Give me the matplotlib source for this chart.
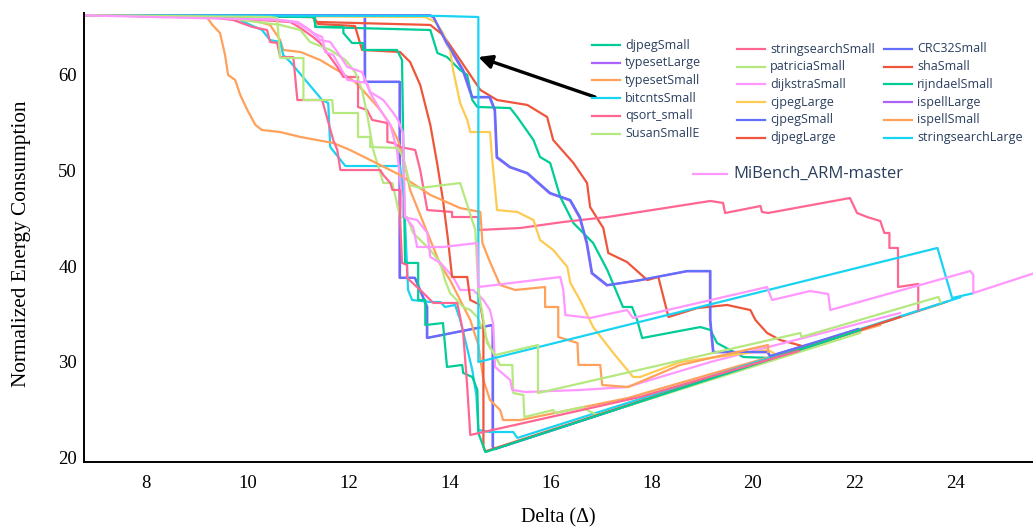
import matplotlib
matplotlib.use("Agg")
import matplotlib.pyplot as plt
from matplotlib.lines import Line2D

# normalized energy vs delta for each MiBench benchmark
crc32_small_x = [6.7, 12.33, 12.33, 13.02, 13.02, 13.32, 13.42, 13.56, 13.56, 14.86, 14.86, 14.90, 21.73]
crc32_small_y = [66.25, 66.18, 59.27, 59.27, 38.75, 38.75, 37.49, 35.71, 32.46, 33.82, 21.05, 20.85, 32.63]

sha_small_x = [6.7, 11.30, 11.38, 13.62, 13.87, 14.21, 14.61, 14.94, 15.54, 15.93, 16.05, 16.45, 16.72, 16.78,
               17.04, 17.14, 17.51, 17.91, 18.13, 18.23, 18.33, 18.90, 19.49, 19.95, 20.05, 20.28, 20.54, 21.07, 23.84]
sha_small_y = [66.25, 66.07, 65.55, 65.24, 64.19, 61.57, 58.43, 57.38, 56.86, 55.60, 53.19, 50.79, 48.69, 46.18,
               43.98, 41.36, 40.42, 38.53, 38.85, 36.76, 34.66, 35.60, 35.92, 35.39, 34.35, 32.99, 32.25, 31.49, 36.27]

rijndael_small_x = [6.7, 11.30, 11.36, 13.62, 13.76, 13.95, 14.21, 14.35, 14.45, 14.55, 15.20, 15.34, 15.66, 15.79,
                    15.99, 16.19, 16.45, 16.84, 17.12, 17.43, 17.61, 17.71, 17.81, 18.96, 19.16, 19.29, 19.55, 19.81,
                    20.40, 22.78]
rijndael_small_y = [66.25, 66.18, 65.03, 64.71, 62.30, 61.88, 60.52, 60.00, 57.38, 56.65, 56.54, 55.60, 53.19, 51.41,
                    50.79, 47.23, 44.50, 42.41, 39.58, 35.71, 35.71, 34.35, 32.46, 33.61, 33.30, 31.94, 31.20, 30.47,
                    30.37, 34.44]

ispell_large_x = [6.7, 12.32, 12.32, 13.01, 13.01, 13.31, 13.41, 13.55, 13.55, 14.85, 14.85, 14.89, 21.71]
ispell_large_y = [66.25, 66.2, 59.3, 59.3, 38.78, 38.78, 37.52, 35.73, 32.48, 33.84, 21.08, 20.82, 32.6]

ispell_small_x = [6.7, 9.86, 10.45, 10.65, 10.71, 11.05, 11.44, 11.84, 12.13, 12.37, 12.63, 12.83, 12.98, 13.12,
                  13.22, 13.42, 13.62, 13.82, 14.01, 14.21, 14.41, 14.57, 14.67, 14.80, 15.00, 15.06, 15.40, 17.53, 22.52]
ispell_small_y = [66.25, 66.07, 65.24, 63.66, 62.62, 62.41, 61.57, 60.31, 59.27, 57.91, 56.34, 54.77, 53.19, 50.58,
                  47.96, 45.34, 42.72, 40.11, 38.53, 36.44, 34.35, 31.73, 28.06, 25.97, 24.92, 23.87, 23.87, 26.18, 33.82]

strsearch_large_x = [6.7, 9.66, 10.29, 10.45, 10.65, 10.71, 10.85, 11.48, 11.60, 11.64, 11.94, 13.02, 13.10, 13.18,
                     13.26, 13.62, 13.82, 13.91, 14.11, 14.21, 14.31, 14.45, 14.53, 14.57, 14.80, 15.26, 15.34, 24.10]
strsearch_large_y = [66.25, 66.18, 64.71, 63.66, 63.46, 62.09, 61.36, 57.38, 57.07, 52.46, 50.47, 50.47, 46.91, 37.49,
                     36.44, 36.23, 36.23, 35.71, 35.92, 34.35, 32.25, 29.11, 26.50, 22.83, 22.62, 22.62, 22.00, 36.72]

strsearch_small_x = [6.7, 9.66, 10.25, 10.85, 11.05, 11.30, 11.44, 11.78, 11.90, 12.19, 12.19, 12.37, 12.47, 12.77,
                     12.77, 12.89, 13.02, 13.32, 13.42, 13.56, 14.05, 14.05, 14.57, 14.57, 15.40, 16.25, 17.12, 19.16,
                     19.41, 19.45, 20.15, 20.18, 20.30, 21.92, 22.06, 22.26, 22.52, 22.60, 22.70, 22.70, 22.87, 22.87,
                     23.27, 23.27]
strsearch_small_y = [66.25, 66.07, 65.76, 65.55, 64.92, 63.98, 63.35, 60.84, 59.79, 59.79, 56.65, 56.34, 55.29, 54.97,
                     52.99, 52.88, 52.46, 52.15, 50.05, 45.86, 45.66, 45.13, 45.13, 43.77, 43.98, 44.61, 45.13, 46.81,
                     46.60, 45.55, 46.28, 45.66, 45.55, 47.12, 45.55, 45.13, 44.71, 43.46, 43.46, 41.89, 41.89, 37.80,
                     38.12, 35.39]

patricia_small_x = [6.7, 9.27, 9.86, 10.65, 11.05, 11.24, 11.64, 11.94, 12.13, 12.27, 12.39, 12.49, 12.69, 12.87,
                    13.02, 13.16, 13.28, 13.62, 13.82, 13.91, 14.01, 14.27, 14.41, 14.55, 14.80, 15.00, 15.24, 15.26,
                    15.46, 15.48, 16.05, 16.09, 16.64, 16.72, 16.92, 17.77, 22.12]
patricia_small_y = [66.25, 66.07, 65.76, 65.24, 64.71, 63.46, 62.62, 61.57, 60.31, 58.43, 55.29, 52.15, 48.69, 48.69,
                    45.13, 45.13, 43.46, 41.68, 40.32, 38.53, 37.17, 35.71, 35.39, 34.66, 31.52, 29.64, 29.64, 26.70,
                    26.50, 24.19, 24.92, 24.61, 25.24, 24.92, 24.40, 25.76, 32.99]

dijkstra_small_x = [6.7, 10.06, 11.00, 11.24, 11.44, 11.64, 11.78, 11.98, 12.27, 12.43, 12.63, 12.83, 12.96, 13.02,
                    13.08, 13.36, 13.56, 13.62, 13.82, 14.07, 14.21, 14.47, 14.67, 14.80, 14.86, 14.90, 15.20, 15.24,
                    15.50, 16.58, 17.51, 17.77, 19.16, 22.91]
dijkstra_small_y = [66.25, 66.07, 65.55, 64.71, 63.66, 63.46, 62.41, 60.84, 60.31, 58.12, 56.34, 54.77, 52.15, 49.32,
                    45.13, 44.82, 43.46, 40.94, 40.32, 38.85, 37.49, 37.49, 36.44, 35.39, 34.03, 29.43, 28.06, 27.02,
                    26.81, 27.02, 27.33, 27.75, 29.95, 35.08]

cjpeg_large_x = [6.7, 13.52, 13.72, 13.87, 14.01, 14.07, 14.21, 14.35, 14.41, 14.80, 14.84, 14.94, 15.34, 15.66,
                 15.79, 16.05, 16.33, 16.39, 16.58, 16.84, 17.24, 17.63, 17.77, 18.56, 20.30, 20.44]
cjpeg_large_y = [66.25, 66.07, 65.55, 64.40, 62.62, 60.52, 57.07, 55.29, 54.03, 54.03, 51.41, 45.86, 45.66, 44.82,
                 42.72, 41.68, 39.90, 38.22, 36.44, 33.61, 30.89, 28.38, 28.38, 29.95, 31.20, 30.79]

cjpeg_small_x = [6.7, 13.62, 13.68, 13.95, 14.27, 14.45, 14.80, 14.90, 14.94, 15.20, 15.54, 15.99, 16.39, 16.58,
                 16.72, 16.82, 17.12, 17.77, 18.70, 19.16, 19.16, 19.22, 19.75, 20.30, 20.34, 21.19, 22.08]
cjpeg_small_y = [66.25, 66.25, 66.07, 63.35, 60.52, 57.70, 57.70, 56.34, 51.41, 50.37, 49.74, 47.65, 46.91, 45.13,
                 42.41, 39.27, 38.01, 38.53, 39.48, 39.48, 34.35, 31.00, 31.00, 31.00, 30.58, 31.94, 33.41]

djpeg_large_x = [6.7, 11.30, 11.40, 12.13, 12.27, 13.02, 13.22, 13.42, 13.62, 13.76, 13.87, 13.97, 14.05, 14.35,
                 14.41, 14.61, 14.67, 14.67, 14.71, 22.91]
djpeg_large_y = [66.25, 66.07, 65.34, 65.13, 62.62, 62.41, 61.36, 58.95, 54.77, 50.58, 46.91, 42.72, 38.85, 38.85,
                 36.44, 35.92, 34.03, 21.05, 20.60, 34.66]

djpeg_small_x = [6.7, 11.34, 11.34, 11.90, 11.90, 12.07, 12.29, 12.29, 12.96, 13.06, 13.12, 13.38, 13.38, 13.52,
                 13.52, 13.87, 13.95, 14.25, 14.27, 14.45, 14.55, 14.57, 14.71, 22.12]
djpeg_small_y = [66.25, 66.07, 65.03, 65.03, 64.40, 63.35, 63.35, 62.62, 62.62, 61.57, 40.32, 40.32, 36.44, 36.44,
                 33.82, 34.03, 29.43, 29.64, 28.80, 28.38, 27.02, 22.52, 20.52, 33.30]

typeset_large_x = [6.7, 13.61, 13.69, 13.94, 14.26, 14.44, 14.79, 14.89, 14.93, 15.19, 15.53, 15.98, 16.38, 16.57,
                   16.71, 16.81, 17.11, 17.76, 18.69, 19.15, 19.15, 19.21, 20.29, 20.33, 21.18, 22.07]
typeset_large_y = [66.25, 66.22, 66.0, 63.3, 60.47, 57.65, 57.65, 56.3, 51.35, 50.33, 49.7, 47.6, 46.86, 45.07,
                   42.36, 39.23, 37.96, 38.5, 39.44, 39.44, 34.3, 30.97, 30.97, 30.55, 31.91, 33.37]

typeset_small_x = [6.7, 9.07, 9.21, 9.31, 9.46, 9.56, 9.62, 9.76, 9.86, 10.00, 10.16, 10.29, 10.65, 11.05, 11.70,
                   12.03, 12.43, 13.02, 13.62, 14.21, 14.61, 14.65, 14.80, 15.00, 15.30, 15.89, 15.89, 16.15, 16.15,
                   16.53, 16.55, 16.98, 17.02, 17.53, 18.56, 20.30, 20.30]
typeset_small_y = [66.25, 66.18, 65.97, 65.24, 64.40, 62.09, 60.00, 59.48, 57.91, 56.34, 54.77, 54.24, 54.03, 53.51,
                   52.88, 52.15, 51.10, 49.53, 47.44, 46.07, 45.66, 42.41, 40.42, 38.01, 37.49, 37.80, 35.71, 35.71,
                   32.57, 31.94, 29.64, 29.64, 27.54, 27.33, 29.64, 31.73, 31.00]

bitcnts_small_x = [6.7, 13.82, 14.57, 14.57, 23.65, 23.94, 24.34]
bitcnts_small_y = [66.25, 66.18, 66.07, 29.95, 41.89, 36.65, 37.13]

qsort_small_x = [6.7, 9.21, 9.72, 10.10, 10.39, 10.45, 10.59, 10.65, 10.91, 10.99, 11.48, 11.70, 11.78, 11.84, 12.63,
                 12.69, 12.83, 12.87, 13.02, 13.02, 13.06, 13.16, 13.16, 13.42, 13.68, 14.15, 14.21, 14.27, 14.35,
                 14.41, 17.77, 20.90]
qsort_small_y = [66.25, 66.07, 65.76, 65.03, 64.71, 63.46, 63.35, 61.88, 61.88, 57.38, 57.38, 53.19, 52.15, 50.05,
                 50.05, 49.53, 48.69, 47.96, 47.96, 45.13, 40.32, 40.11, 38.75, 37.49, 36.13, 36.13, 34.66, 32.99,
                 27.33, 22.31, 26.29, 31.10]

susan_small_x = [6.7, 10.45, 10.59, 10.65, 11.11, 11.11, 11.68, 11.70, 12.19, 12.19, 12.43, 12.43, 12.98, 13.08,
                 13.22, 13.42, 14.21, 14.51, 14.57, 14.67, 14.74, 14.90, 15.75, 15.75, 20.94, 20.96, 23.67, 23.71]
susan_small_y = [66.25, 66.07, 65.97, 61.78, 61.78, 57.38, 57.38, 56.02, 56.02, 53.51, 53.51, 52.46, 52.36, 51.41,
                 48.48, 48.17, 48.69, 43.77, 37.49, 34.35, 31.94, 30.68, 31.73, 26.70, 32.99, 32.57, 36.76, 36.23]

mibench_x = [6.7, 10.65, 10.91, 11.05, 11.30, 11.48, 11.54, 11.70, 11.98, 12.37, 12.43, 12.69, 12.89, 12.98, 13.08,
             13.12, 13.28, 13.36, 13.87, 14.55, 14.57, 16.19, 16.25, 16.29, 16.78, 17.51, 17.63, 20.28, 20.38, 21.13,
             21.49, 21.53, 24.30, 24.36, 24.36, 25.70]
mibench_y = [66.25, 65.76, 65.55, 65.24, 64.40, 63.98, 62.41, 62.09, 59.48, 59.16, 58.22, 57.38, 56.02, 55.29, 53.93,
             45.13, 44.09, 41.99, 41.99, 42.41, 37.80, 38.85, 37.49, 34.87, 34.56, 35.39, 34.56, 37.80, 36.44, 37.38,
             37.07, 35.39, 39.48, 39.06, 37.17, 39.48]

BLUE, RED, GREEN, PURPLE, ORANGE = '#636EFA', '#EF553B', '#00CC96', '#AB63FA', '#FFA15A'
CYAN, ROSE, LIME, PINK, YELLOW = '#19D3F3', '#FF6692', '#B6E880', '#FF97FF', '#FECB52'

# drawing order (first = bottom)
series = [
    ('ispellLarge', ispell_large_x, ispell_large_y, PURPLE),
    ('typesetLarge', typeset_large_x, typeset_large_y, PURPLE),
    ('CRC32Small', crc32_small_x, crc32_small_y, BLUE),
    ('shaSmall', sha_small_x, sha_small_y, RED),
    ('rijndaelSmall', rijndael_small_x, rijndael_small_y, GREEN),
    ('ispellSmall', ispell_small_x, ispell_small_y, ORANGE),
    ('stringsearchLarge', strsearch_large_x, strsearch_large_y, CYAN),
    ('stringsearchSmall', strsearch_small_x, strsearch_small_y, ROSE),
    ('patriciaSmall', patricia_small_x, patricia_small_y, LIME),
    ('dijkstraSmall', dijkstra_small_x, dijkstra_small_y, PINK),
    ('cjpegLarge', cjpeg_large_x, cjpeg_large_y, YELLOW),
    ('cjpegSmall', cjpeg_small_x, cjpeg_small_y, BLUE),
    ('djpegLarge', djpeg_large_x, djpeg_large_y, RED),
    ('djpegSmall', djpeg_small_x, djpeg_small_y, GREEN),
    ('typesetSmall', typeset_small_x, typeset_small_y, ORANGE),
    ('bitcntsSmall', bitcnts_small_x, bitcnts_small_y, CYAN),
    ('qsort_small', qsort_small_x, qsort_small_y, ROSE),
    ('SusanSmallE', susan_small_x, susan_small_y, LIME),
    ('MiBench_ARM-master', mibench_x, mibench_y, PINK),
]
colors = {name: c for name, _, _, c in series}

legend_cols = [
    (['djpegSmall', 'typesetLarge', 'typesetSmall', 'bitcntsSmall', 'qsort_small', 'SusanSmallE'], 592, 45),
    (['stringsearchSmall', 'patriciaSmall', 'dijkstraSmall', 'cjpegLarge', 'cjpegSmall', 'djpegLarge'], 737, 49),
    (['CRC32Small', 'shaSmall', 'rijndaelSmall', 'ispellLarge', 'ispellSmall', 'stringsearchLarge'], 884, 49),
]

W, H = 1033, 527
serif = 'Liberation Serif'
sans = 'Open Sans'
txt_color = '#2a3f5f'

fig = plt.figure(figsize=(W / 100, H / 100), dpi=100)
ax = fig.add_axes([84 / W, 1 - 462 / H, 949 / W, 449 / H])

for name, xs, ys, c in series:
    ax.plot(xs, ys, color=c, lw=1.6, solid_joinstyle='round')

ax.set_xlim(6.77, 25.54)
ax.set_ylim(19.48, 66.49)
ax.set_xticks(range(8, 25, 2))
ax.set_yticks(range(20, 61, 10))
for sp in ['top', 'right']:
    ax.spines[sp].set_visible(False)
for sp in ['left', 'bottom']:
    ax.spines[sp].set_linewidth(1.4)
ax.tick_params(axis='x', length=0, pad=9, labelsize=13.5)
ax.tick_params(axis='y', length=0, pad=5, labelsize=13.5)
for lab in ax.get_xticklabels() + ax.get_yticklabels():
    lab.set_fontfamily(serif)

fig.text(22 / W, 1 - 244 / H, 'Normalized Energy Consumption', rotation=90,
         ha='center', va='center', fontfamily=serif, fontsize=15.3)
fig.text(558 / W, 1 - 522 / H, 'Delta (\u0394)', ha='center', va='baseline',
         fontfamily=serif, fontsize=14.5)

# hand-placed legend, three columns
for names, lx, top in legend_cols:
    for i, name in enumerate(names):
        py = top + 17.7 * i
        fig.add_artist(Line2D([lx / W, (lx + 28) / W], [1 - py / H, 1 - py / H],
                              color=colors[name], lw=1.6, transform=fig.transFigure))
        fig.text((lx + 33) / W, 1 - py / H, name, ha='left', va='center',
                 fontfamily=sans, fontsize=9, color=txt_color)

fig.add_artist(Line2D([693 / W, 727 / W], [1 - 174 / H, 1 - 174 / H],
                      color=PINK, lw=1.6, transform=fig.transFigure))
fig.text(733 / W, 1 - 174 / H, 'MiBench_ARM-master', ha='left', va='center',
         fontfamily=sans, fontsize=12, color=txt_color)

ax.annotate('', xy=(14.57, 61.88), xycoords='data',
            xytext=(595 / W, 1 - 97 / H), textcoords='figure fraction',
            arrowprops=dict(arrowstyle='-|>', color='black', lw=2.4,
                            mutation_scale=20, shrinkA=0, shrinkB=0))

fig.savefig('out.png', dpi=100, facecolor='white')
